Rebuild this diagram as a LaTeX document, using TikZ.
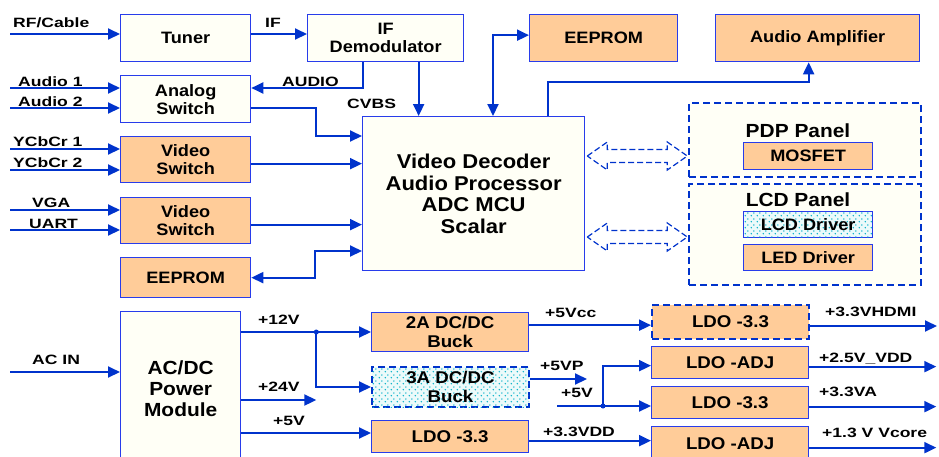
\documentclass[tikz,border=0pt]{standalone}
\usepackage{fontspec}
\setmainfont{Liberation Sans}
\newfontfamily\boxfont[FakeStretch=1.1]{Liberation Sans}
\newfontfamily\tagfont[FakeStretch=1.3]{Liberation Sans}
\usepackage{xcolor}
\definecolor{wire-blue}{RGB}{0,51,204}
\definecolor{edge-blue}{RGB}{40,60,235}
\definecolor{peach-200}{RGB}{255,204,153}
\definecolor{ivory-50}{RGB}{255,255,246}
\definecolor{dot-cyan}{RGB}{0,175,200}
\definecolor{mint-50}{RGB}{236,250,250}
\usepackage{tikz}
\usetikzlibrary{arrows.meta,patterns,positioning}
\pgfdeclarepatternformonly{sparse dots}{\pgfqpoint{0pt}{0pt}}{\pgfqpoint{6pt}{6pt}}{\pgfqpoint{6pt}{6pt}}{%
  \pgfpathcircle{\pgfqpoint{1.5pt}{1.5pt}}{0.9pt}%
  \pgfpathcircle{\pgfqpoint{4.5pt}{4.5pt}}{0.9pt}%
  \pgfusepath{fill}}

\begin{document}
\begin{tikzpicture}[x=1pt, y=-1pt,
    block/.style={draw=edge-blue, line width=1.3pt, fill=#1, inner sep=0pt, anchor=north west, align=center,
        font={\boxfont\bfseries\fontsize{16.5pt}{18pt}\selectfont}},
    block/.default=ivory-50,
    dashed block/.style={block=#1, draw=wire-blue, line width=2pt, dash pattern=on 7pt off 4pt},
    dots fill/.style={postaction={pattern=sparse dots, pattern color=dot-cyan}},
    power text/.style={font={\boxfont\bfseries\fontsize{17pt}{19pt}\selectfont}},
    panel title/.style={anchor=base, inner sep=0pt, font={\boxfont\bfseries\fontsize{19pt}{21pt}\selectfont}},
    tag/.style={anchor=base west, inner sep=0pt, font={\tagfont\bfseries\fontsize{13.5pt}{15pt}\selectfont}},
    wire/.style={draw=wire-blue, line width=2pt, -{Triangle[length=12pt,width=11pt]}},
    bus/.style={wire, {Triangle[length=12pt,width=11pt]}-{Triangle[length=12pt,width=11pt]}},
    plain wire/.style={draw=wire-blue, line width=2pt},
    link/.style={draw=wire-blue, line width=1.2pt, dash pattern=on 6pt off 3pt},
    joint/.style={fill=wire-blue}
]
\useasboundingbox (0,0) rectangle (939,456);

% Top row
\node[block, minimum width=130pt, minimum height=47pt] (tuner) at (120,14) {Tuner};
\node[block, minimum width=156pt, minimum height=47pt] (ifdemod) at (307,14) {IF\\Demodulator};
\node[block=peach-200, minimum width=148pt, minimum height=47pt] (eeprom1) at (529,14) {EEPROM};
\node[block=peach-200, minimum width=204pt, minimum height=47pt] (audioamp) at (715,14) {Audio Amplifier};

% Input switches
\node[block, minimum width=130pt, minimum height=47pt] (analogsw) at (120,75) {Analog\\Switch};
\node[block=peach-200, minimum width=130pt, minimum height=46pt] (videosw1) at (120,136) {Video\\Switch};
\node[block=peach-200, minimum width=130pt, minimum height=46pt] (videosw2) at (120,197) {Video\\Switch};
\node[block=peach-200, minimum width=130pt, minimum height=40pt] (eeprom2) at (120,257) {EEPROM};

% Core
\node[block, minimum width=222pt, minimum height=154pt, font={\boxfont\bfseries\fontsize{20pt}{21.5pt}\selectfont}] (core) at (362,116)
    {Video Decoder\\Audio Processor\\ADC MCU\\Scalar};

% Panels
\node[dashed block=ivory-50, minimum width=232pt, minimum height=74pt] (pdp) at (688,102) {};
\node[panel title] (pdptitle) at (798,137) {PDP Panel};
\node[block=peach-200, minimum width=129pt, minimum height=27pt] (mosfet) at (743,142) {MOSFET};
\node[dashed block=ivory-50, minimum width=232pt, minimum height=101pt] (lcd) at (688,183) {};
\node[panel title] (lcdtitle) at (798,206) {LCD Panel};
\node[block=mint-50, dots fill, minimum width=129pt, minimum height=26pt] (lcddrv) at (743,211) {LCD Driver};
\node[block=peach-200, minimum width=129pt, minimum height=26pt] (leddrv) at (743,244) {LED Driver};

% Power section
\node[block, font={\boxfont\bfseries\fontsize{19pt}{21pt}\selectfont}, minimum width=120pt, minimum height=154pt] (acdc) at (120,311) {AC/DC\\Power\\Module};
\node[block=peach-200, power text, minimum width=157pt, minimum height=39pt] (buck2a) at (371,312) {2A DC/DC\\Buck};
\node[dashed block=mint-50, dots fill, power text, minimum width=157pt, minimum height=40pt] (buck3a) at (371,366) {3A DC/DC\\Buck};
\node[block=peach-200, power text, minimum width=157pt, minimum height=32pt] (ldo33) at (371,420) {LDO -3.3};
\node[dashed block=peach-200, power text, minimum width=157pt, minimum height=34pt] (ldohdmi) at (651,304) {LDO -3.3};
\node[block=peach-200, power text, minimum width=157pt, minimum height=32pt] (ldovdd) at (651,346) {LDO -ADJ};
\node[block=peach-200, power text, minimum width=157pt, minimum height=32pt] (ldova) at (651,386) {LDO -3.3};
\node[block=peach-200, power text, minimum width=157pt, minimum height=34pt] (ldocore) at (651,426) {LDO -ADJ};

% Tuner chain
\coordinate (rf) at (10,34);
\draw[wire] (rf) -- (rf -| tuner.west);
\draw[wire] (rf -| tuner.east) -- (rf -| ifdemod.west);
\node[tag] (rftag) at (13,27) {RF/Cable};
\node[tag] (iftag) at (265,27) {IF};

% Audio inputs
\coordinate (aud1) at (10,88);
\coordinate (aud2) at (10,108);
\draw[wire] (aud1) -- (aud1 -| analogsw.west);
\draw[wire] (aud2) -- (aud2 -| analogsw.west);
\draw[wire] ([xshift=-23pt]ifdemod.south) |- (aud1 -| analogsw.east);
\draw[wire] ([xshift=33pt]ifdemod.south) coordinate (cvbs) -- (cvbs |- core.north);
\draw[wire] (aud2 -| analogsw.east) -- ++(65,0) |- ([yshift=-20pt]core.north west);
\node[tag] (aud1tag) at (18,86) {Audio 1};
\node[tag] (aud2tag) at (18,106) {Audio 2};
\node[tag] (audiotag) at (282,86) {AUDIO};
\node[tag] (cvbstag) at (347,108) {CVBS};

% Video inputs
\coordinate (ycc1) at (10,149);
\coordinate (ycc2) at (10,170);
\coordinate (vga) at (10,210);
\coordinate (uart) at (10,230);
\draw[wire] (ycc1) -- (ycc1 -| videosw1.west);
\draw[wire] (ycc2) -- (ycc2 -| videosw1.west);
\draw[wire] (vga) -- (vga -| videosw2.west);
\draw[wire] (uart) -- (uart -| videosw2.west);
\draw[wire] ([yshift=-4pt]videosw1.east) coordinate (vs1) -- (vs1 -| core.west);
\draw[wire] ([yshift=-4pt]videosw2.east) coordinate (vs2) -- (vs2 -| core.west);
\node[tag] (ycc1tag) at (13,146) {YCbCr 1};
\node[tag] (ycc2tag) at (13,167) {YCbCr 2};
\node[tag] (vgatag) at (32,207) {VGA};
\node[tag] (uarttag) at (29,228) {UART};

% Core links
\draw[bus] ([yshift=-135pt]core.north west) -- ++(-47,0) |- (eeprom2.east);
\draw[bus] ([xshift=131pt]core.north west) |- ([yshift=3pt]eeprom1.west);
\draw[wire] ([xshift=186pt]core.north west) -- ++(0,-34) -| ([xshift=-9pt]audioamp.south);

% Panel links
\foreach \y in {156,237}
  \draw[link] (core.east |- 0,\y) ++(2,0) -- ++(20,-14) -- ++(0,7.5) -- ++(60,0) -- ++(0,-7.5)
    -- ++(20,14) -- ++(-20,14) -- ++(0,-7.5) -- ++(-60,0) -- ++(0,7.5) -- cycle;

% Power rails
\coordinate (acin) at (10,372);
\draw[wire] (acin) -- (acin -| acdc.west);
\draw[plain wire] ([yshift=-21pt]acdc.north east) -- ++(75,0) coordinate (j12);
\draw[wire] (j12) -- (j12 -| buck2a.west);
\draw[wire] (j12) |- (buck3a.west);
\fill[joint] (j12) circle (2.5);
\draw[wire] ([yshift=-89pt]acdc.north east) -- ++(75,0);
\draw[wire] ([yshift=-122pt]acdc.north east) coordinate (v5a) -- (v5a -| ldo33.west);
\node[tag] (actag) at (32,364) {AC IN};
\node[tag] (v12tag) at (258,324) {+12V};
\node[tag] (v24tag) at (258,391) {+24V};
\node[tag] (v5atag) at (273,425) {+5V};

\draw[wire] ([yshift=7pt]buck2a.east) coordinate (vcc) -- (vcc -| ldohdmi.west);
\draw[wire] ([yshift=8pt]buck3a.east) -- ++(57,0);
\coordinate (v5b) at (557,406);
\draw[wire] (v5b) -- (v5b -| ldova.west);
\path (v5b) ++(46,0) coordinate (j5);
\draw[wire] (j5) |- ([yshift=-3pt]ldovdd.west);
\fill[joint] (j5) circle (2.5);
\draw[wire] ([yshift=-4pt]ldo33.east) coordinate (vdd) -- (vdd -| ldocore.west);
\node[tag] (vcctag) at (545,317) {+5Vcc};
\node[tag] (vptag) at (540,370) {+5VP};
\node[tag] (v5btag) at (561,397) {+5V};
\node[tag] (vddtag) at (543,436) {+3.3VDD};

% Outputs
\foreach \n in {ldohdmi,ldovdd,ldova,ldocore}
  \draw[wire] ([yshift=-4pt]\n.east) -- ++(127,0);
\node[tag] (hdmitag) at (825,316) {+3.3VHDMI};
\node[tag] (vdd25tag) at (819,362) {+2.5V\_VDD};
\node[tag] (vatag) at (819,396) {+3.3VA};
\node[tag] (coretag) at (822,437) {+1.3 V Vcore};

\end{tikzpicture}
\end{document}
